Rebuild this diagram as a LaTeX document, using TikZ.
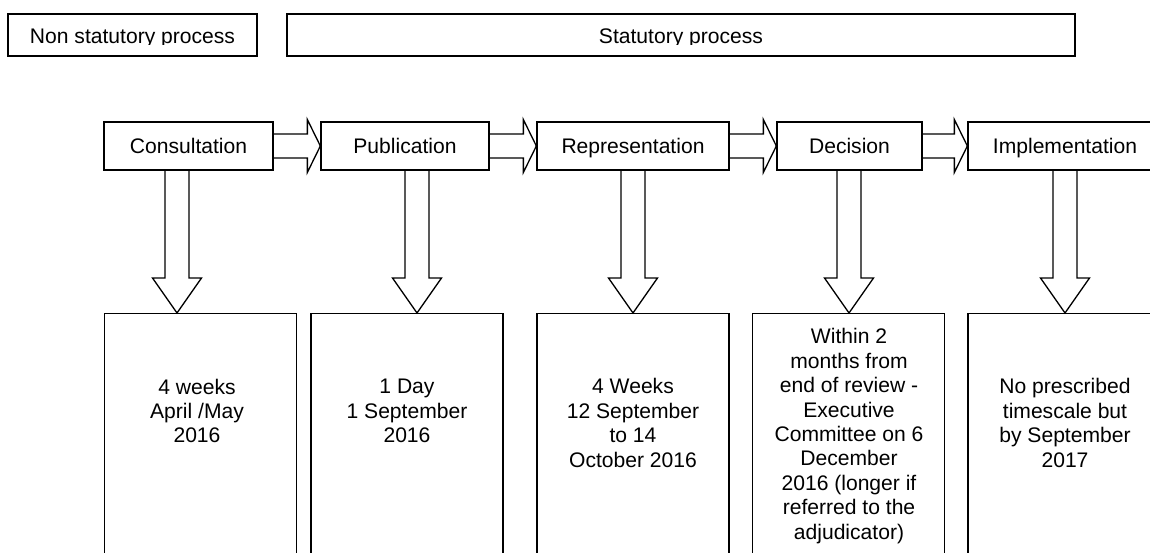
\documentclass[tikz,border=0pt]{standalone}
\usepackage{fontspec}
\setmainfont{Liberation Sans}
\usetikzlibrary{calc,positioning}

\newcommand{\blockright}[2]{%
  \draw[block line] ($(#1.east)+(0,-12)$) -- ($(#2.west)+(-13,-12)$) -- ($(#2.west)+(-13,-26.5)$)
    -- (#2.west) -- ($(#2.west)+(-13,26.5)$) -- ($(#2.west)+(-13,12)$) -- ($(#1.east)+(0,12)$);}

\newcommand{\blockdown}[3]{%
  \coordinate (shaft) at ($(#1.south)+(#3,0)$);
  \coordinate (tip) at (shaft |- #2.north);
  \draw[block line] ($(shaft)+(-12,0)$) -- ($(tip)+(-12,-35)$) -- ($(tip)+(-24.5,-35)$)
    -- (tip) -- ($(tip)+(24.5,-35)$) -- ($(tip)+(12,-35)$) -- ($(shaft)+(12,0)$);}

\begin{document}
\begin{tikzpicture}[x=0.02cm,y=-0.02cm,line width=0.75pt,
                    font=\fontsize{12}{13.9}\selectfont,
                    stage/.style={draw,rectangle,inner sep=0pt,minimum height=0.96cm,
                                  text height=10pt,text depth=2pt},
                    panel/.style={draw,rectangle,anchor=north,inner sep=0pt,minimum width=3.84cm,minimum height=5cm},
                    note/.style={align=center,inner sep=0pt},
                    block line/.style={draw,line join=miter}]
\useasboundingbox (0,0) rectangle (1150,553);

\node[draw,rectangle,inner sep=0pt,minimum width=4.98cm,minimum height=0.84cm] (nonstat) at (132.5,35) {};
\node[draw,rectangle,inner sep=0pt,minimum width=15.76cm,minimum height=0.84cm] (stat) at (681,35) {};
\begin{scope}
  \clip (0,0) rectangle (1150,44.5);
  \node[anchor=base] (nonstat-txt) at (132.5,44) {Non statutory process};
  \node[anchor=base] (stat-txt) at (681,44) {Statutory process};
\end{scope}

\foreach \n/\x/\w/\t in {cons/188.5/169/Consultation, pub/405/168/Publication,
                         rep/633/192/Representation, dec/849.5/145/Decision,
                         impl/1065/194/Implementation}
  \node[stage,minimum width=\w*0.02cm] (\n) at (\x,146) {\t};

\foreach \n/\x in {cons/200.5, pub/407, rep/633, dec/848.5, impl/1064}
  \node[panel] (\n-box) at (\x,313) {};

\foreach \a/\b in {cons/pub, pub/rep, rep/dec, dec/impl}
  {\blockright{\a}{\b}}

\foreach \n/\d in {cons/-11.5, pub/12, rep/0, dec/-0.5, impl/0}
  {\blockdown{\n}{\n-box}{\d}}

\node[note] (cons-txt) at (197,411) {4 weeks\\April /May\\2016};
\node[note] (pub-txt) at (407,411) {1 Day\\1 September\\2016};
\node[note] (rep-txt) at (633,423) {4 Weeks\\12 September\\to 14\\October 2016};
\node[note] (dec-txt) at (849,436) {Within 2\\months from\\end of review -\\Executive\\Committee on 6\\December\\2016 (longer if\\referred to the\\adjudicator)};
\node[note] (impl-txt) at (1065,423) {No prescribed\\timescale but\\by September\\2017};

\end{tikzpicture}
\end{document}
